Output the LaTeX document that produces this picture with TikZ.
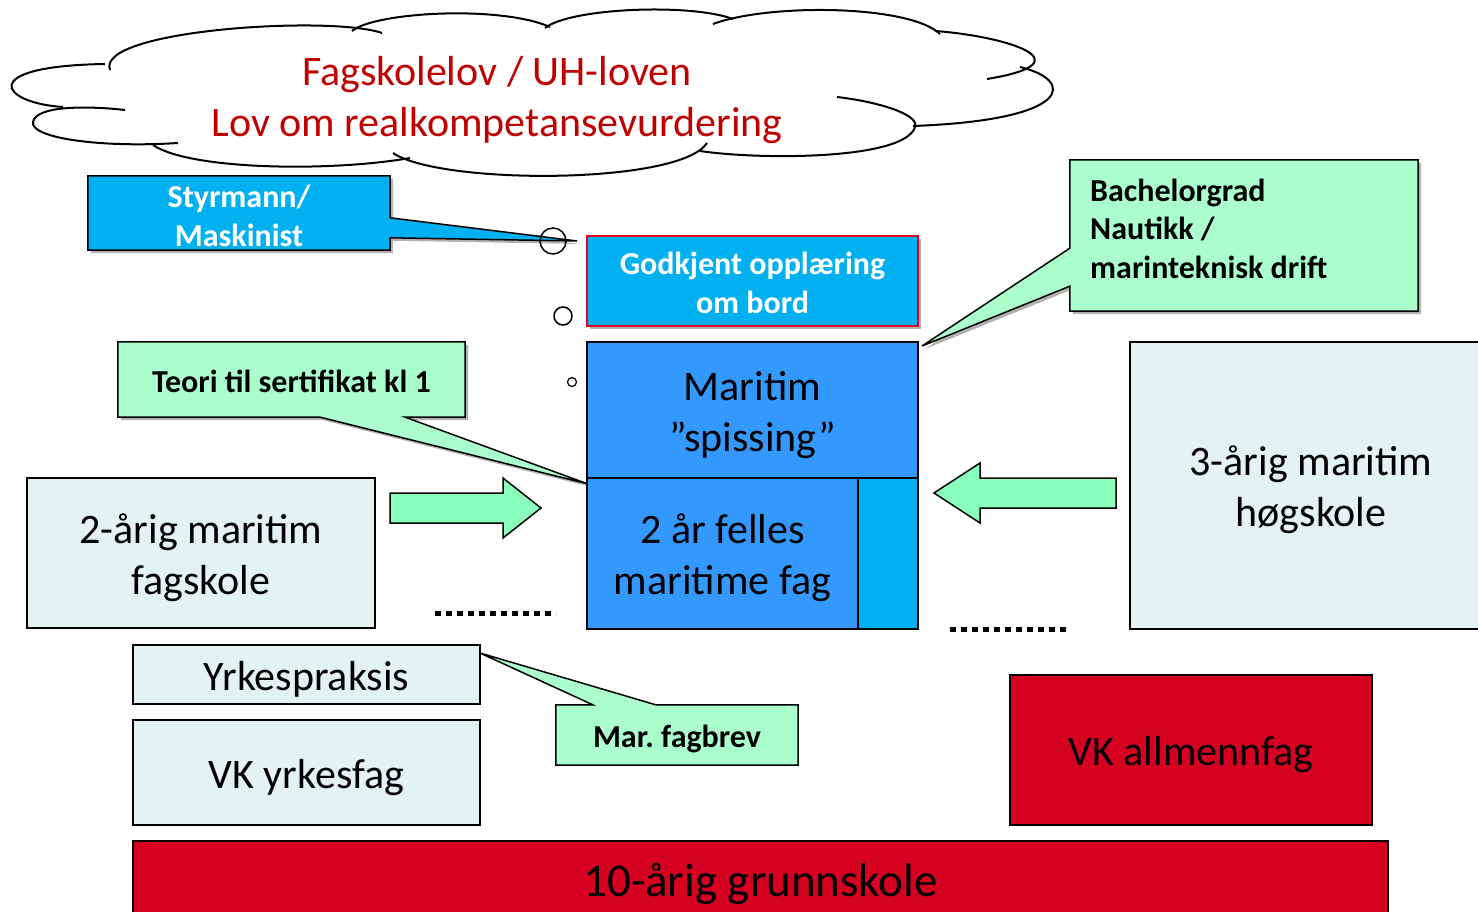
\documentclass[tikz,border=0pt]{standalone}
\usepackage{fontspec}
\setmainfont{Carlito}
\frenchspacing
\usetikzlibrary{shadows,calc,backgrounds}
\definecolor{cyanB}{HTML}{00B0F0}
\definecolor{blueM}{HTML}{3399FF}
\definecolor{greenC}{HTML}{AAFFCC}
\definecolor{greenA}{HTML}{88FFBB}
\definecolor{grayB}{HTML}{E3F2F2}
\definecolor{redB}{HTML}{D60021}
\definecolor{redT}{HTML}{C00000}
\definecolor{redE}{HTML}{E4001E}
\newcommand{\tsA}{\vrule width0pt height1.02em depth0pt\relax}
\newcommand{\tsC}{\vrule width0pt height1.08em depth0pt\relax}
\newcommand{\tsD}{\vrule width0pt height28pt depth0pt\relax}
\newcommand{\tsB}{\vrule width0pt height0pt depth0.269em\relax}
\tikzset{
 shad/.style={drop shadow={shadow xshift=3pt, shadow yshift=-3pt, opacity=0.3, fill=black}},
 bx/.style={draw=black, line width=1.5pt, inner sep=0pt, align=center, font=\fontsize{42}{51}\selectfont},
 lbl/.style={inner sep=0pt, align=center, font=\bfseries\fontsize{32}{38.5}\selectfont},
 callout/.style={fill=greenC, draw=black, line width=1.5pt, line join=miter},
 barrow/.style={fill=greenA, draw=black, line width=1.5pt, line join=miter},
 dots/.style={line width=5pt, dash pattern=on 6pt off 5pt},
 cloudline/.style={line width=2pt, draw=black},
 bubble/.style={draw=black, line width=1.5pt, circle, inner sep=0pt},
}
\begin{document}
\begin{tikzpicture}[x=1pt,y=-1pt]
\useasboundingbox (0,0) rectangle (1478,912);
\clip (0,0) rectangle (1478,912);
\begin{scope}[on background layer]
\fill[white] (0,0) rectangle (1478,912);
\end{scope}

% cloud
\draw[cloudline] (63,107) .. controls (0,103) and (-25,66) .. (105,64);
\draw[cloudline] (110,70) .. controls (95,30) and (330,15) .. (382,33);
\draw[cloudline] (352,31) .. controls (375,12) and (500,5) .. (550,27);
\draw[cloudline] (545,28) .. controls (570,8) and (690,3) .. (733,19);
\draw[cloudline] (713,24) .. controls (770,3) and (910,5) .. (940,34);
\draw[cloudline] (935,31) .. controls (1005,36) and (1090,62) .. (987,79);
\draw[cloudline] (1020,67) .. controls (1075,80) and (1075,120) .. (913,126);
\draw[cloudline] (837,97) .. controls (880,102) and (920,115) .. (915,127) .. controls (905,160) and (760,160) .. (700,151);
\draw[cloudline] (393,153) .. controls (440,185) and (680,185) .. (707,143);
\draw[cloudline] (410,158) .. controls (330,172) and (190,170) .. (153,145);
\draw[cloudline] (178,143) .. controls (100,148) and (30,138) .. (33,122) .. controls (36,105) and (90,106) .. (125,110);
\node[inner sep=0pt, align=center, text=redT, font=\fontsize{42}{51}\selectfont] (law) at (497,95) {\tsA Fagskolelov / UH-loven\\Lov om realkompetansevurdering\tsB};

% thought bubbles
\node[bubble, minimum size=26] (b1) at (553,241) {};
\node[bubble, minimum size=18] (b2) at (563,316) {};
\node[bubble, minimum size=9, line width=1.2pt] (b3) at (572,382) {};

% Styrmann callout
\node[lbl, text=white, minimum width=302, minimum height=74] (sty) at (239,213) {\tsD Styrmann/\\Maskinist};
\coordinate (styTip) at (577,241);
\begin{scope}[on background layer]
\path[fill=cyanB, draw=black, line width=1.5pt, line join=miter, shad] (sty.north west) -- (sty.north east) -- ([yshift=-42pt]sty.north east) -- (styTip) -- ([yshift=-62pt]sty.north east) -- (sty.south east) -- (sty.south west) -- cycle;
\end{scope}

% Godkjent
\node[bx, lbl, text=white, fill=cyanB, draw=redE, shad, minimum width=331, minimum height=90] (god) at (752.5,281) {\tsC Godkjent opplæring\\om bord\tsB};

% central column
\node[bx, fill=blueM, minimum width=331, minimum height=136] (spis) at (752.5,410) {\tsA Maritim\\”spissing”\tsB};
\node[bx, fill=blueM, minimum width=271, minimum height=151] (fell) at (722.5,553.5) {\tsA 2 år felles\\maritime fag\tsB};
\node[bx, fill=cyanB, minimum width=60, minimum height=151] (fellc) at (888,553.5) {};

% Bachelor callout
\node[inner sep=0pt, minimum width=348, minimum height=151] (bach) at (1244,235.5) {};
\coordinate (bachTip) at (922,346);
\begin{scope}[on background layer]
\path[callout, shad] (bach.north west) -- (bach.north east) -- (bach.south east) -- (bach.south west) -- ([yshift=25pt]bach.south west) -- (bachTip) -- ([yshift=63pt]bach.south west) -- cycle;
\end{scope}
\node[lbl, align=left, anchor=west] (bachT) at (1090,227) {\tsC Bachelorgrad\\Nautikk /\\marinteknisk drift\tsB};

% Teori callout
\node[lbl, minimum width=347, minimum height=75] (teo) at (291.5,379.5) {\tsC Teori til sertifikat kl 1\tsB};
\coordinate (teoTip) at (588,484);
\begin{scope}[on background layer]
\path[callout, shad] (teo.north west) -- (teo.north east) -- (teo.south east) -- ([xshift=-60pt]teo.south east) -- (teoTip) -- ([xshift=-145pt]teo.south east) -- (teo.south west) -- cycle;
\end{scope}

% side schools
\node[bx, fill=grayB, minimum width=348, minimum height=150] (fag2) at (201,553) {\tsA 2-årig maritim\\fagskole\tsB};
\node[bx, fill=grayB, minimum width=362, minimum height=287] (hog3) at (1311,485.5) {\tsA 3-årig maritim\\høgskole\tsB};

% block arrows
\draw[barrow] (390,493) -- (503,493) -- (503,478) -- (541,508) -- (503,538) -- (503,523) -- (390,523) -- cycle;
\draw[barrow] (934,493) -- (980,463) -- (980,478) -- (1116,478) -- (1116,508) -- (980,508) -- (980,523) -- cycle;

% dotted lines
\draw[dots] (435,613) -- (556,613);
\draw[dots] (950,629) -- (1070,629);

% lower boxes
\node[bx, fill=grayB, minimum width=347, minimum height=59] (yrk) at (306.5,674.5) {\tsA Yrkespraksis\tsB};
\node[bx, fill=grayB, minimum width=347, minimum height=105] (vky) at (306.5,772.5) {\tsA VK yrkesfag\tsB};

% Mar. fagbrev callout
\node[lbl, minimum width=242, minimum height=60] (mfb) at (677,735) {\tsA Mar. fagbrev\tsB};
\coordinate (mfbTip) at (480,653);
\begin{scope}[on background layer]
\path[callout] (mfb.north west) -- ([xshift=37pt]mfb.north west) -- (mfbTip) -- ([xshift=100pt]mfb.north west) -- (mfb.north east) -- (mfb.south east) -- (mfb.south west) -- cycle;
\end{scope}

\node[bx, fill=redB, minimum width=362, minimum height=150] (vka) at (1191,750) {\tsA VK allmennfag\tsB};
\node[bx, fill=redB, minimum width=1255, minimum height=75, font=\fontsize{47}{56}\selectfont] (grs) at (760.5,878.5) {\tsA 10-årig grunnskole\tsB};
\end{tikzpicture}
\end{document}
